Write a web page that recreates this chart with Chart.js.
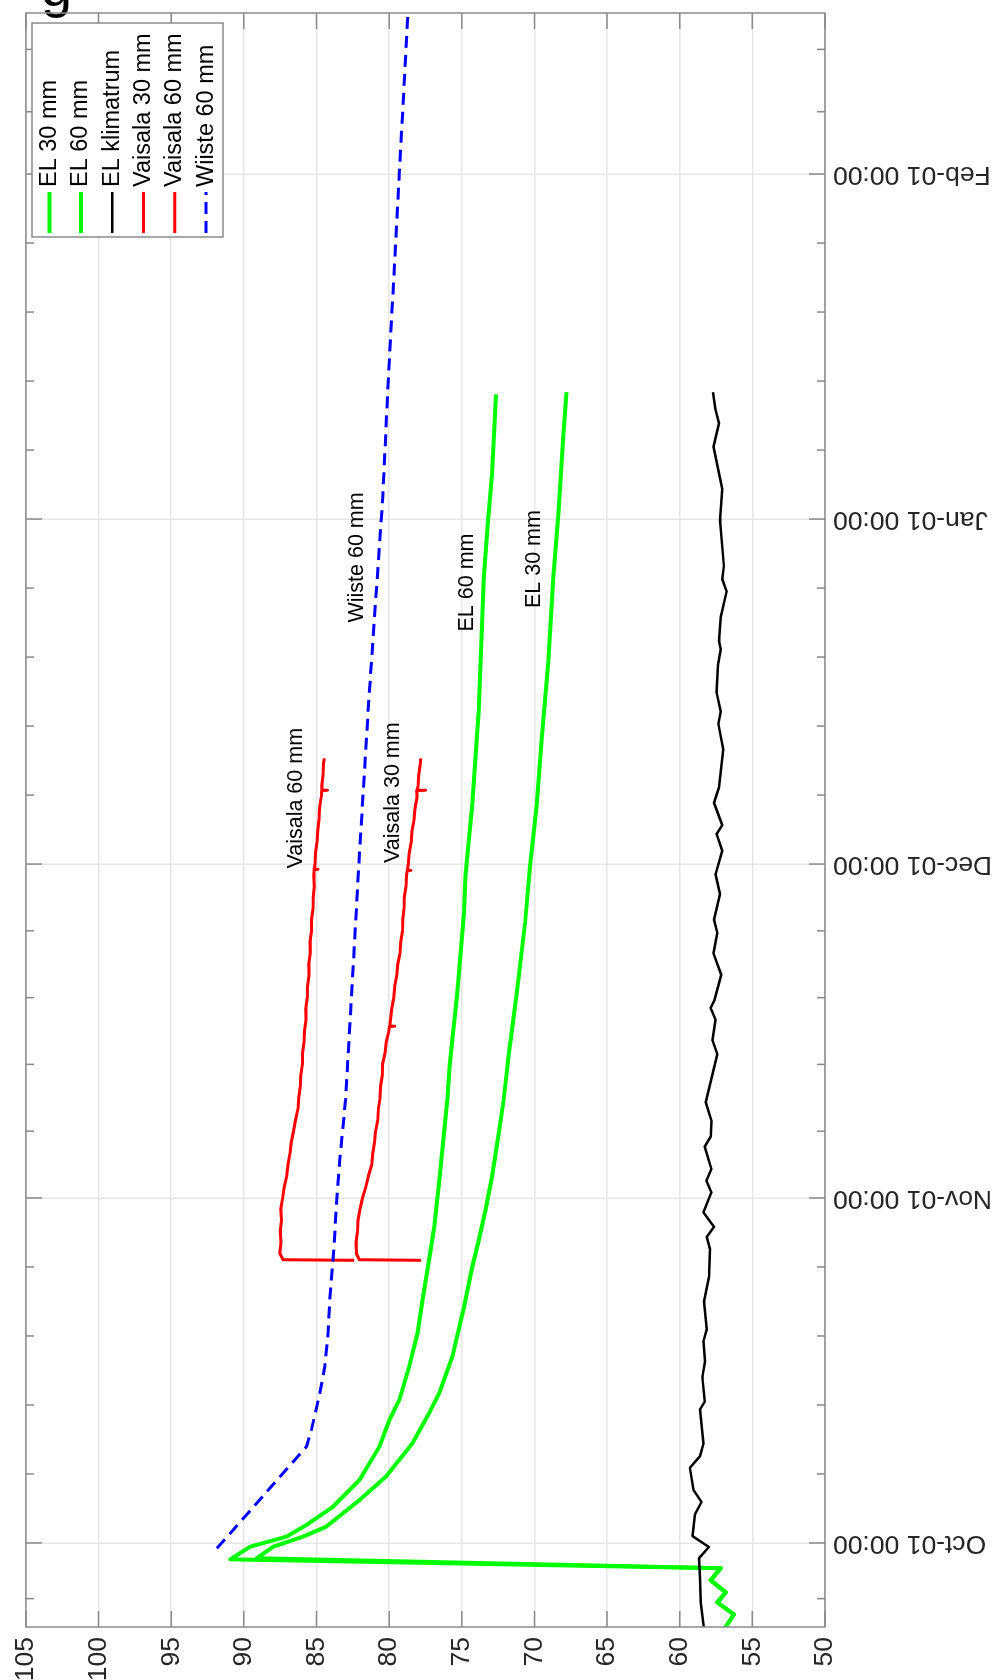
<!DOCTYPE html>
<html>
<head>
<meta charset="utf-8">
<script src="https://cdn.jsdelivr.net/npm/chart.js"></script>
<style>
html, body { margin: 0; padding: 0; background: #fff; width: 1000px; height: 1680px; overflow: hidden; }
/* the figure is drawn lying down and turned a quarter turn to the left */
#wrap { position: absolute; left: 0; top: 0; width: 1680px; height: 1000px; transform-origin: 0 0; transform: translateY(1680px) rotate(-90deg); }
#cut { position: absolute; left: 41px; top: -41px; font: 56px/56px "Liberation Sans", Arial, sans-serif; color: #000; }
</style>
</head>
<body>
<div id="cut">g</div>
<div id="wrap"><canvas id="rhChart" width="1680" height="1000"></canvas></div>
<script>
// days counted from Oct-01 00:00
const majorDays = [0, 31, 61, 92, 123];
const majorLabels = ['Oct-01 00:00', 'Nov-01 00:00', 'Dec-01 00:00', 'Jan-01 00:00', 'Feb-01 00:00'];
const minorDays = [-5, 6.2, 12.4, 18.6, 24.8, 37, 43, 49, 55, 67.2, 73.4, 79.6, 85.8, 98.2, 104.4, 110.6, 116.8, 128.6, 134.2];
const valueTicks = [50, 55, 60, 65, 70, 75, 80, 85, 90, 95, 100, 105];

const el30Days = [-7.8, -6.42, -5.34, -4.44, -3.35, -2.27, -1.37, -0.33, 0.57, 1.47, 3.86, 5.96, 8.96, 11.65, 13.45, 16.74, 21.2, 24.8, 27.2, 29.9, 32.9, 36.8, 39.8, 43.9, 49.4, 55.75, 60.8, 66.35, 72.3, 79.1, 86.7, 92.6, 99.4, 103.4];
const el30Vals = [56.96, 56.27, 57.41, 56.84, 57.87, 57.18, 89.11, 87.97, 85.92, 84.32, 82.04, 80.22, 78.39, 77.25, 76.56, 75.65, 74.85, 74.28, 73.83, 73.37, 72.92, 72.46, 72.12, 71.77, 71.21, 70.64, 70.3, 69.84, 69.5, 69.04, 68.7, 68.35, 68.01, 67.79];

const el60Days = [-7.8, -6.42, -5.34, -4.44, -3.35, -2.27, -1.47, -0.33, 0.57, 1.62, 3.26, 5.66, 8.65, 11.05, 12.85, 15.84, 18.84, 21.8, 25.4, 28.4, 32.3, 36.8, 40, 43, 49.4, 56.6, 60, 66.35, 74.8, 82.45, 86.7, 91.8, 96, 103.2];
const el60Vals = [56.96, 56.27, 57.41, 56.84, 57.87, 57.18, 90.93, 89.56, 87.06, 85.69, 83.86, 82.04, 80.67, 79.98, 79.3, 78.62, 78.05, 77.7, 77.25, 76.9, 76.56, 76.22, 75.98, 75.82, 75.31, 74.85, 74.74, 74.28, 73.83, 73.6, 73.48, 73.19, 72.92, 72.64];

const klimDays = [-7.8, -5.34, -3.17, -1.37, -0.36, 0.62, 2.6, 3.68, 4.76, 6.75, 7.8, 8.9, 12.0, 12.7, 14.9, 16.3, 18.1, 19.2, 21.7, 23.9, 26.4, 27.5, 28.4, 29.7, 31.5, 32.55, 33.6, 35.6, 36.5, 37.96, 39.6, 43.9, 45.2, 47.0, 48.07, 48.8, 51.05, 53.0, 54.8, 56.0, 58.3, 60.1, 62.2, 63.7, 64.5, 66.5, 67.9, 71.3, 73.6, 74.7, 76.4, 78.9, 80.3, 81.05, 83.2, 85.5, 86.6, 87.8, 91.9, 94.7, 98.5, 100.6, 101.8, 103.4];
const klimVals = [58.33, 58.55, 58.6, 58.67, 57.99, 59.12, 58.94, 58.5, 59.05, 59.3, 58.6, 58.37, 58.6, 58.28, 58.44, 58.26, 58.37, 58.14, 58.33, 57.99, 57.92, 58.14, 57.64, 58.37, 57.82, 58.16, 57.82, 58.28, 57.87, 57.82, 58.21, 57.41, 57.75, 57.53, 57.87, 57.6, 57.14, 57.68, 57.41, 57.64, 57.23, 57.53, 57.07, 57.46, 57.07, 57.64, 57.3, 57.0, 57.34, 57.18, 57.46, 57.37, 57.18, 57.3, 57.18, 56.77, 57.07, 56.96, 57.23, 57.07, 57.68, 57.3, 57.53, 57.71];

const v30Days = [25.4, 25.45, 26, 27, 28, 29, 30, 31, 32, 33, 34, 35, 36, 37, 38, 39, 40, 41, 42, 43, 44, 45, 46, 46.4, 46.42, 46.45, 47, 48, 49, 50, 51, 52, 53, 54, 55, 56, 57, 58, 59, 60, 60.4, 60.42, 60.45, 61, 62, 63, 64, 65, 66, 67, 67.6, 67.62, 67.65, 68, 69, 70, 70.5];
const v30Vals = [77.8, 82.05, 82.25, 82.28, 82.18, 82.14, 82.0, 81.83, 81.6, 81.42, 81.2, 81.12, 81.0, 80.93, 80.78, 80.74, 80.62, 80.6, 80.48, 80.45, 80.28, 80.2, 80.02, 79.98, 79.62, 79.96, 79.9, 79.82, 79.68, 79.62, 79.48, 79.4, 79.25, 79.2, 79.08, 79.06, 78.97, 78.96, 78.84, 78.8, 78.76, 78.5, 78.74, 78.68, 78.62, 78.48, 78.42, 78.28, 78.22, 78.08, 78.1, 77.5, 78.06, 78.02, 77.96, 77.86, 77.82];

const v60Days = [25.4, 25.45, 26, 27, 28, 29, 30, 31, 32, 33, 34, 35, 36, 37, 38, 39, 40, 41, 42, 43, 44, 45, 46, 47, 48, 49, 50, 51, 52, 53, 54, 55, 56, 57, 58, 59, 60, 60.5, 60.52, 60.55, 61, 62, 63, 64, 65, 66, 67, 67.6, 67.62, 67.65, 68, 69, 70, 70.5];
const v60Vals = [82.4, 87.3, 87.52, 87.45, 87.5, 87.4, 87.46, 87.33, 87.22, 87.04, 86.96, 86.83, 86.74, 86.58, 86.45, 86.28, 86.22, 86.12, 86.08, 85.97, 85.96, 85.86, 85.83, 85.72, 85.74, 85.63, 85.62, 85.52, 85.53, 85.43, 85.44, 85.35, 85.34, 85.24, 85.22, 85.15, 85.18, 85.16, 84.9, 85.15, 85.1, 85.06, 84.97, 84.92, 84.82, 84.79, 84.68, 84.64, 84.25, 84.62, 84.63, 84.55, 84.52, 84.47];

const wiisteDays = [-0.48, 8.65, 10.15, 13.45, 15.84, 18.84, 21.8, 25.4, 30.8, 34.4, 39.8, 50, 61.1, 75.7, 93.9, 103.4, 123, 137.6];
const wiisteVals = [91.85, 85.69, 85.35, 84.77, 84.43, 84.2, 84.09, 83.86, 83.6, 83.4, 83.0, 82.55, 82.08, 81.4, 80.44, 80.1, 79.3, 78.7];

// text labels written next to the curves (day, value)
const noteTexts = ['Vaisala 60 mm', 'Vaisala 30 mm', 'Wiiste 60 mm', 'EL 60 mm', 'EL 30 mm'];
const noteDays = [60.6, 61.1, 82.7, 81.9, 84.0];
const noteVals = [86.43, 79.76, 82.24, 74.65, 70.02];

function pts(days, vals) {
    return days.map((d, i) => ({ x: d, y: vals[i] }));
}

const FONT = '"Liberation Sans", Arial, sans-serif';
Chart.defaults.font.family = FONT;

// box, inward ticks, curve labels and the legend, drawn like the matlab axes
const axesDecor = {
    id: 'axesDecor',
    afterDatasetsDraw(chart) {
        const { ctx, chartArea: a, scales: { x, y } } = chart;
        ctx.save();
        ctx.strokeStyle = '#8a8a8a';
        ctx.lineWidth = 1.5;
        ctx.beginPath();
        majorDays.forEach(d => {
            const px = x.getPixelForValue(d);
            ctx.moveTo(px, a.bottom); ctx.lineTo(px, a.bottom - 16);
            ctx.moveTo(px, a.top); ctx.lineTo(px, a.top + 16);
        });
        minorDays.forEach(d => {
            const px = x.getPixelForValue(d);
            ctx.moveTo(px, a.bottom); ctx.lineTo(px, a.bottom - 8);
            ctx.moveTo(px, a.top); ctx.lineTo(px, a.top + 8);
        });
        valueTicks.forEach(v => {
            const py = y.getPixelForValue(v);
            ctx.moveTo(a.left, py); ctx.lineTo(a.left + 16, py);
            ctx.moveTo(a.right, py); ctx.lineTo(a.right - 16, py);
        });
        ctx.stroke();
        ctx.strokeRect(a.left, a.top, a.right - a.left, a.bottom - a.top);

        // curve labels
        ctx.fillStyle = '#000';
        ctx.font = '21.5px ' + FONT;
        ctx.textAlign = 'left';
        ctx.textBaseline = 'middle';
        noteTexts.forEach((t, i) => {
            ctx.fillText(t, x.getPixelForValue(noteDays[i]), y.getPixelForValue(noteVals[i]));
        });

        // legend in the upper right corner
        const lx = 1443, ly = 32, lw = 214, lh = 191;
        ctx.fillStyle = '#fff';
        ctx.fillRect(lx, ly, lw, lh);
        ctx.strokeStyle = '#8a8a8a';
        ctx.lineWidth = 1.5;
        ctx.strokeRect(lx, ly, lw, lh);
        ctx.font = '23.5px ' + FONT;
        chart.data.datasets.forEach((ds, i) => {
            const cy = 49.6 + i * 31.3;
            ctx.strokeStyle = ds.borderColor;
            ctx.lineWidth = ds.borderWidth;
            ctx.setLineDash(ds.borderDash || []);
            ctx.beginPath();
            ctx.moveTo(lx + 4, cy); ctx.lineTo(lx + 45, cy);
            ctx.stroke();
            ctx.setLineDash([]);
            ctx.fillStyle = '#000';
            ctx.fillText(ds.label, lx + 50, cy);
        });
        ctx.restore();
    }
};

const rhChart = new Chart(document.getElementById('rhChart'), {
    type: 'line',
    data: {
        datasets: [
            { label: 'EL 30 mm', data: pts(el30Days, el30Vals), borderColor: '#00ff00', borderWidth: 4, order: 5 },
            { label: 'EL 60 mm', data: pts(el60Days, el60Vals), borderColor: '#00ff00', borderWidth: 4, order: 4 },
            { label: 'EL klimatrum', data: pts(klimDays, klimVals), borderColor: '#000000', borderWidth: 2.5, order: 3 },
            { label: 'Vaisala 30 mm', data: pts(v30Days, v30Vals), borderColor: '#ff0000', borderWidth: 3, order: 2 },
            { label: 'Vaisala 60 mm', data: pts(v60Days, v60Vals), borderColor: '#ff0000', borderWidth: 3, order: 1 },
            { label: 'Wiiste 60 mm', data: pts(wiisteDays, wiisteVals), borderColor: '#0000ff', borderWidth: 3, borderDash: [12, 7], order: 0 }
        ]
    },
    options: {
        responsive: false,
        animation: false,
        devicePixelRatio: 1,
        layout: { padding: { top: 21, right: 13, left: 0, bottom: 0 } },
        elements: { point: { radius: 0 }, line: { tension: 0, borderJoinStyle: 'round', borderCapStyle: 'butt' } },
        plugins: { legend: { display: false }, tooltip: { enabled: false } },
        scales: {
            x: {
                type: 'linear',
                min: -7.55,
                max: 137.47,
                afterBuildTicks: (scale) => { scale.ticks = majorDays.map(d => ({ value: d })); },
                afterFit: (scale) => { scale.height = 175; },
                ticks: {
                    autoSkip: false,
                    minRotation: 90,
                    maxRotation: 90,
                    padding: 8,
                    color: '#262626',
                    font: { size: 26.5 },
                    callback: (v) => majorLabels[majorDays.indexOf(v)]
                },
                grid: { color: '#e6e6e6', lineWidth: 1.5, drawTicks: false },
                border: { display: false }
            },
            y: {
                min: 50,
                max: 105,
                afterBuildTicks: (scale) => { scale.ticks = valueTicks.map(v => ({ value: v })); },
                afterFit: (scale) => { scale.width = 53; },
                ticks: { padding: 10, color: '#262626', font: { size: 26.5 } },
                grid: { color: '#e6e6e6', lineWidth: 1.5, drawTicks: false },
                border: { display: false }
            }
        }
    },
    plugins: [axesDecor]
});
</script>
</body>
</html>
